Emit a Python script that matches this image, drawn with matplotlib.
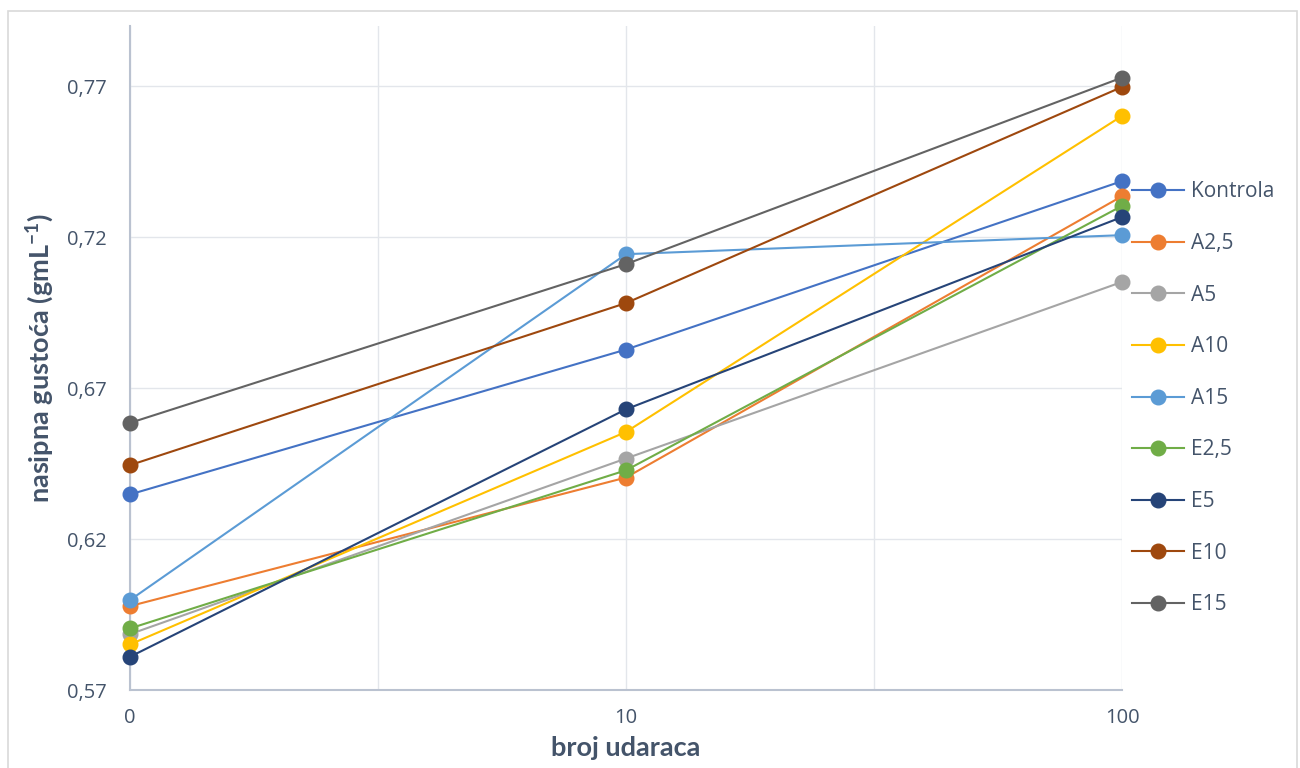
import matplotlib.pyplot as plt
from matplotlib.patches import Rectangle

plt.rcParams['font.family'] = ['Open Sans', 'DejaVu Sans']
plt.rcParams['mathtext.fontset'] = 'custom'
plt.rcParams['mathtext.bf'] = 'Lato:bold'
plt.rcParams['mathtext.rm'] = 'Lato'

# broj udaraca (categorical axis)
udarci = ["0", "10", "100"]

# nasipna gustoća po seriji
kontrola = [0.6348, 0.6828, 0.7386]
a2_5 = [0.5978, 0.6404, 0.7336]
a5 = [0.5885, 0.6467, 0.7052]
a10 = [0.5851, 0.6555, 0.7602]
a15 = [0.5998, 0.7144, 0.7207]
e2_5 = [0.5904, 0.6428, 0.7304]
e5 = [0.5810, 0.6630, 0.7267]
e10 = [0.6445, 0.6982, 0.7698]
e15 = [0.6585, 0.7111, 0.7729]

series = [
    ("Kontrola", kontrola, "#4472C4"),
    ("A2,5", a2_5, "#ED7D31"),
    ("A5", a5, "#A5A5A5"),
    ("A10", a10, "#FFC000"),
    ("A15", a15, "#5B9BD5"),
    ("E2,5", e2_5, "#70AD47"),
    ("E5", e5, "#264478"),
    ("E10", e10, "#9E480E"),
    ("E15", e15, "#636363"),
]

text_col = "#44546A"

fig = plt.figure(figsize=(13, 7.68), dpi=100)
ax = fig.add_axes([130 / 1300, 1 - 690 / 768, (1122 - 130) / 1300, (690 - 26) / 768])

# chart border
fig.patches.append(Rectangle((8 / 1300, -0.01), (1297 - 8) / 1300, 1 - 11 / 768 + 0.01,
                             transform=fig.transFigure, fill=False,
                             edgecolor="#D9D9D9", linewidth=1.2))

x = list(range(len(udarci)))
for name, vals, col in series:
    ax.plot(x, vals, color=col, linewidth=1.5, marker="o", markersize=10.5,
            markerfacecolor=col, markeredgecolor=col, label=name, clip_on=False, zorder=3)

ax.set_xlim(0, 2)
ax.set_ylim(0.57, 0.79)
ax.set_yticks([0.57, 0.62, 0.67, 0.72, 0.77])
ax.set_yticklabels(["0,57", "0,62", "0,67", "0,72", "0,77"])
ax.set_xticks(x)
ax.set_xticklabels(udarci)
ax.set_xticks([0.5, 1.5], minor=True)

ax.grid(True, which="both", color="#E3E6EB", linewidth=1.0, zorder=0)
ax.set_axisbelow(True)
for s in ["top", "right"]:
    ax.spines[s].set_visible(False)
for s in ["left", "bottom"]:
    ax.spines[s].set_color("#BAC2D0")
    ax.spines[s].set_linewidth(1.5)
ax.tick_params(which="both", length=0, labelsize=14.5, labelcolor=text_col)
ax.tick_params(axis="x", pad=13)
ax.tick_params(axis="y", pad=17)

ax.set_xlabel("broj udaraca", fontsize=19.5, fontweight="bold", color=text_col,
              family=["Lato", "DejaVu Sans"], labelpad=6)
ax.set_ylabel("nasipna gustoća (gmL$^{\\mathbf{-1}}$)", fontsize=19.5, fontweight="bold",
              color=text_col, family=["Lato", "DejaVu Sans"], labelpad=8)

leg = ax.legend(loc="upper left", bbox_to_anchor=(1124 / 1300, 1 - 173 / 768),
                bbox_transform=fig.transFigure, frameon=False, fontsize=15,
                handlelength=2.5, handletextpad=0.3, labelspacing=1.47,
                borderaxespad=0)
for t in leg.get_texts():
    t.set_color(text_col)

fig.savefig("out.png", dpi=100)
